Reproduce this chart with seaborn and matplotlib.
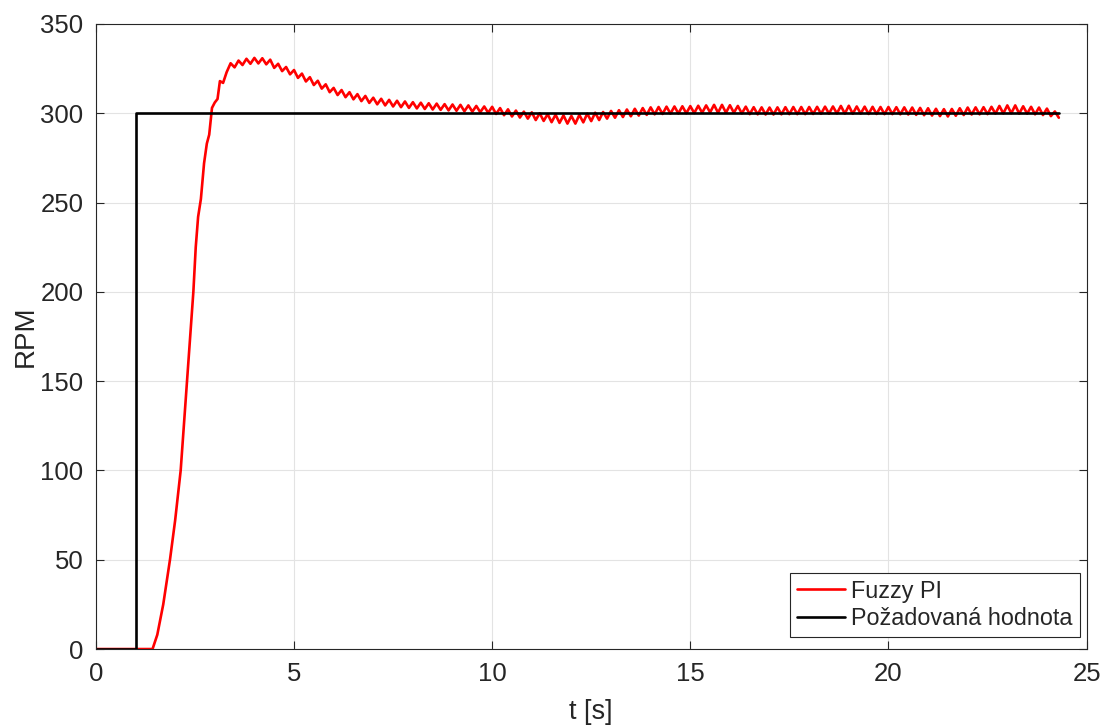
import numpy as np
import pandas as pd
import matplotlib
matplotlib.use("Agg")
import matplotlib.pyplot as plt
import seaborn as sns

# setpoint (step at t = 1 s)
t_setpoint = [0.0, 1.0, 1.0, 24.3]
rpm_setpoint = [0, 0, 300, 300]

# fuzzy PI response: rise phase
t_rise = [0.0, 1.43, 1.55, 1.70, 1.87, 2.00, 2.14, 2.22, 2.30, 2.38,
          2.46, 2.52, 2.58, 2.65, 2.73, 2.80, 2.86, 2.93, 3.00, 3.07,
          3.13, 3.21, 3.30]
rpm_rise = [0, 0, 8, 25, 50, 72, 100, 125, 150, 175,
            200, 225, 242, 252, 272, 283, 288, 303, 306, 308,
            318, 317, 323]

# ripple phase, sampled every 0.1 s starting at t = 3.4 s
ripple_start = 3.4
rpm_ripple = [
    328.0, 325.7, 329.5, 327.0, 330.5, 327.7,
    331.0, 327.9, 330.8, 327.4, 330.0, 325.4, 327.7, 323.6, 325.9, 321.8,
    324.2, 319.8, 322.2, 317.8, 320.2, 315.8, 318.2, 313.8, 316.2, 311.8,
    314.2, 310.2, 313.0, 309.0, 311.8, 307.8, 310.7, 306.8, 309.7, 305.8,
    308.7, 305.0, 308.1, 304.4, 307.5, 303.8, 307.0, 303.4, 306.6, 303.0,
    306.2, 302.7, 305.9, 302.4, 305.6, 302.1, 305.4, 301.9, 305.1, 301.6,
    304.9, 301.4, 304.7, 301.1, 304.4, 300.9, 304.1, 300.6, 303.8, 300.3,
    303.6, 299.6, 302.9, 298.9, 302.2, 298.2, 301.5, 297.6, 300.9, 297.0,
    300.5, 296.2, 300.0, 295.7, 299.5, 295.0, 299.2, 294.6, 298.8, 294.2,
    298.5, 294.2, 299.1, 294.9, 299.8, 295.6, 300.3, 296.2, 300.7, 297.0,
    301.3, 297.5, 301.7, 297.9, 302.1, 298.3, 302.5, 298.7, 302.9, 299.1,
    303.3, 299.4, 303.5, 299.6, 303.7, 299.8, 303.8, 299.9, 303.9, 300.0,
    304.0, 300.1, 304.2, 300.3, 304.4, 300.5, 304.7, 300.3, 304.7, 300.3,
    304.5, 300.3, 304.1, 299.9, 303.7, 299.5, 303.4, 299.4, 303.3, 299.3,
    303.2, 299.3, 303.3, 299.4, 303.4, 299.5, 303.5, 299.5, 303.5, 299.5,
    303.5, 299.6, 303.6, 299.7, 303.7, 299.8, 303.8, 299.9, 304.1, 299.8,
    304.2, 299.7, 303.8, 299.8, 303.7, 299.6, 303.6, 299.6, 303.5, 299.5,
    303.5, 299.5, 303.4, 299.4, 303.3, 299.3, 303.2, 299.1, 303.0, 298.9,
    302.8, 298.7, 302.5, 298.4, 302.3, 298.2, 302.4, 298.6, 302.8, 299.0,
    303.2, 299.3, 303.3, 299.4, 303.4, 299.5, 303.6, 299.8, 304.1, 299.9,
    304.4, 300.0, 304.4, 299.8, 303.9, 299.8, 303.6, 299.4, 303.2, 299.0,
    302.6, 298.4, 301.0, 297.5,
]

t_ripple = np.round(ripple_start + 0.1 * np.arange(len(rpm_ripple)), 2)
t_fuzzy = np.concatenate([t_rise, t_ripple])
rpm_fuzzy = np.concatenate([rpm_rise, rpm_ripple])

sns.set_style("whitegrid")
plt.rcParams['font.family'] = ['Liberation Sans', 'DejaVu Sans']

fig = plt.figure(figsize=(11.02, 7.26), dpi=100)
ax = fig.add_axes([0.087, 0.106, 0.899, 0.861])

sns.lineplot(x=t_fuzzy, y=rpm_fuzzy, color="#ff0000", lw=1.9,
             label="Fuzzy PI", estimator=None, sort=False, ax=ax)
sns.lineplot(x=t_setpoint, y=rpm_setpoint, color="black", lw=1.9,
             label="Požadovaná hodnota", estimator=None, sort=False, ax=ax)

ax.set_xlim(0, 25)
ax.set_ylim(0, 350)
ax.set_xticks(np.arange(0, 26, 5))
ax.set_yticks(np.arange(0, 351, 50))
ax.grid(True, color="#e3e3e3", lw=0.8)
for s in ax.spines.values():
    s.set_color("#262626")
    s.set_linewidth(0.8)
ax.tick_params(direction="in", length=6, width=0.8, colors="#262626",
               labelsize=18.5, top=True, right=True, bottom=True, left=True,
               pad=9)
ax.set_xlabel("t [s]", fontsize=19.5, color="#262626", labelpad=10)
ax.set_ylabel("RPM", fontsize=20, color="#262626", labelpad=1)

leg = ax.legend(loc="lower right", bbox_to_anchor=(0.993, 0.019),
                fontsize=16.8, fancybox=False, framealpha=1,
                edgecolor="#262626", handlelength=2.05, borderaxespad=0,
                borderpad=0.3, labelspacing=0.2, handletextpad=0.25)
leg.get_frame().set_linewidth(0.8)

fig.savefig("out.png", dpi=100)
